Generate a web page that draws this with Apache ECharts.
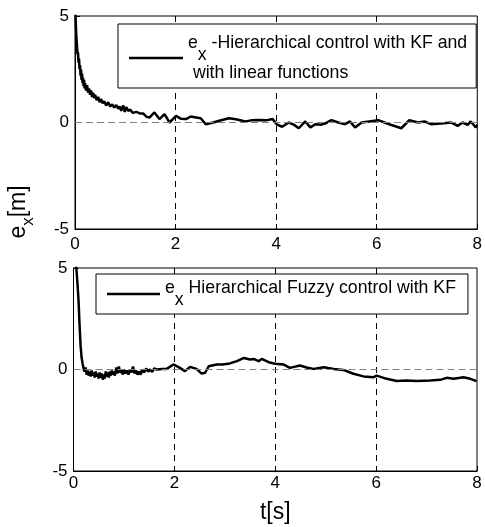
<!DOCTYPE html>
<html>
<head>
<meta charset="utf-8">
<script src="https://cdn.jsdelivr.net/npm/echarts@6/dist/echarts.min.js"></script>
<style>html,body{margin:0;padding:0;background:#fff;}#c{width:485px;height:527px;}</style>
</head>
<body>
<div id="c"></div>
<script>
var xTicks = [0, 2, 4, 6, 8];
var yTicks = [-5, 0, 5];
var nameTop = 'e_x -Hierarchical control with KF and with linear functions';
var nameBot = 'e_x Hierarchical Fuzzy control with KF';

var tTop = [0,0.01,0.02,0.03,0.04,0.05,0.06,0.07,0.08,0.09,0.10,0.11,0.12,0.13,0.14,0.15,0.16,0.17,0.18,0.19,0.20,0.22,0.24,0.26,0.28,0.30,0.32,0.34,0.36,0.38,0.40,0.43,0.46,0.49,0.52,0.55,0.58,0.62,0.66,0.70,0.74,0.78,0.82,0.86,0.89,0.92,0.96,0.99,1.02,1.06,1.10,1.15,1.22,1.30,1.36,1.42,1.48,1.58,1.68,1.78,1.88,2.01,2.10,2.21,2.30,2.41,2.50,2.60,2.75,2.87,3.06,3.20,3.39,3.50,3.65,3.80,3.93,4.02,4.12,4.25,4.35,4.45,4.58,4.68,4.78,4.90,4.97,5.10,5.24,5.37,5.47,5.57,5.70,5.85,6.03,6.25,6.49,6.65,6.82,6.95,7.08,7.28,7.48,7.61,7.71,7.81,7.87,7.97,8.00];
var exTop = [5.6,5.0,4.4,3.9,3.6,3.2,3.3,2.8,3.0,2.5,2.7,2.2,2.5,2.0,2.3,1.85,2.1,1.7,2.0,1.6,1.85,1.5,1.75,1.4,1.6,1.3,1.5,1.2,1.4,1.15,1.3,1.05,1.2,0.95,1.1,0.9,1.0,0.8,0.95,0.75,0.85,0.7,0.82,0.65,0.75,0.55,0.8,0.5,0.72,0.55,0.6,0.45,0.5,0.42,0.42,0.27,0.23,0.47,0.16,0.39,0.0,0.31,0.18,0.16,0.28,0.23,0.2,-0.08,0.0,0.08,0.2,0.15,0.05,0.1,0.12,0.1,0.16,-0.1,-0.2,0.0,-0.1,-0.27,0.05,-0.23,-0.08,-0.1,-0.05,0.11,0.0,-0.08,0.05,-0.23,0.0,0.05,0.11,-0.08,-0.27,0.11,0.0,0.05,-0.08,-0.05,0.0,-0.16,0.0,-0.11,0.05,-0.23,-0.1];

var tBot = [0,0.05,0.08,0.10,0.12,0.14,0.16,0.18,0.20,0.22,0.24,0.26,0.28,0.30,0.32,0.34,0.36,0.38,0.40,0.42,0.44,0.46,0.48,0.50,0.52,0.54,0.56,0.58,0.60,0.62,0.64,0.66,0.68,0.70,0.72,0.74,0.76,0.78,0.80,0.82,0.85,0.87,0.90,0.92,0.95,0.98,1.00,1.03,1.06,1.09,1.12,1.15,1.18,1.21,1.24,1.27,1.30,1.33,1.36,1.40,1.44,1.48,1.52,1.56,1.60,1.65,1.75,1.85,1.98,2.11,2.21,2.31,2.44,2.54,2.61,2.68,2.84,2.95,3.10,3.24,3.38,3.50,3.57,3.67,3.73,3.87,4.00,4.16,4.29,4.49,4.62,4.76,4.96,5.16,5.35,5.55,5.75,5.95,6.01,6.21,6.41,6.61,6.81,7.07,7.27,7.40,7.54,7.73,7.87,7.99];
var exBot = [5.5,5.2,4.2,3.4,2.2,1.2,0.6,0.3,0.05,-0.1,0.1,-0.25,-0.05,-0.3,-0.1,-0.35,-0.05,-0.3,-0.15,-0.4,-0.1,-0.35,-0.2,-0.45,-0.15,-0.4,-0.2,-0.5,-0.25,-0.45,-0.1,-0.35,-0.15,-0.4,-0.1,-0.3,-0.05,-0.25,-0.1,-0.3,0.1,-0.2,0.15,-0.15,-0.05,-0.25,0.0,-0.2,-0.05,-0.25,0.0,-0.15,0.15,-0.2,-0.05,-0.25,-0.1,-0.25,0.0,-0.15,0.05,-0.1,0.0,-0.12,0.05,0.0,0.02,0.03,0.25,0.08,-0.08,0.13,0.03,-0.2,-0.16,0.16,0.25,0.25,0.3,0.41,0.57,0.49,0.52,0.41,0.52,0.36,0.28,0.25,0.08,0.2,0.1,0.03,0.11,0.03,-0.02,-0.21,-0.34,-0.38,-0.3,-0.46,-0.57,-0.54,-0.57,-0.54,-0.51,-0.41,-0.46,-0.38,-0.46,-0.57];

function zip(a, b) {
  var n = Math.min(a.length, b.length), out = [];
  for (var i = 0; i < n; i++) out.push([a[i], b[i]]);
  return out;
}

var FONT = '"Liberation Sans", Arial, sans-serif';
var FS = 17;
var LFS = 17.7;

function xAxisCfg(gi, margin, withName) {
  var c = {
    type: 'value', gridIndex: gi, min: xTicks[0], max: xTicks[xTicks.length - 1],
    interval: xTicks[1] - xTicks[0],
    axisLine: { show: true, onZero: false, lineStyle: { color: '#000', width: 1 } },
    axisTick: { show: true, inside: true, length: 5, lineStyle: { color: '#000' } },
    axisLabel: { color: '#000', fontSize: FS, fontFamily: FONT, margin: margin },
    splitLine: { show: true, showMinLine: false, showMaxLine: false, lineStyle: { color: '#000', type: [6, 5], width: 1 } }
  };
  if (withName) {
    c.name = 't[s]';
    c.nameLocation = 'middle';
    c.nameGap = 30;
    c.nameTextStyle = { color: '#000', fontSize: 23, fontFamily: FONT };
  }
  return c;
}
function yAxisCfg(gi) {
  return {
    type: 'value', gridIndex: gi, min: yTicks[0], max: yTicks[yTicks.length - 1],
    interval: yTicks[1] - yTicks[0],
    axisLine: { show: true, onZero: false, lineStyle: { color: '#000', width: 1 } },
    axisTick: { show: true, inside: true, length: 5, lineStyle: { color: '#000' } },
    axisLabel: { color: '#000', fontSize: FS, fontFamily: FONT, margin: 6 },
    splitLine: { show: false }
  };
}

var richLeg = {
  e: { fontSize: LFS, fontFamily: FONT, color: '#000', lineHeight: 18, verticalAlign: 'top' },
  sub: { fontSize: LFS, fontFamily: FONT, color: '#000', lineHeight: 30, verticalAlign: 'top', padding: [12, 0, 0, 0] },
  t: { fontSize: LFS, fontFamily: FONT, color: '#000', lineHeight: 18, verticalAlign: 'top' }
};

function zeroLine() {
  return {
    silent: true, symbol: 'none', label: { show: false },
    lineStyle: { color: '#808080', type: [7, 4], width: 1 },
    data: [{ yAxis: 0 }]
  };
}

var chart = echarts.init(document.getElementById('c'), null, { renderer: 'canvas' });
chart.setOption({
  backgroundColor: '#fff',
  animation: false,
  textStyle: { fontFamily: FONT },
  grid: [
    { left: 75, top: 16, width: 405, height: 213, show: true, borderColor: '#000', borderWidth: 1, backgroundColor: 'transparent' },
    { left: 73.5, top: 268, width: 403.5, height: 203, show: true, borderColor: '#000', borderWidth: 1, backgroundColor: 'transparent' }
  ],
  xAxis: [xAxisCfg(0, 7, false), xAxisCfg(1, 4, true)],
  yAxis: [yAxisCfg(0), yAxisCfg(1)],
  legend: [
    {
      data: [nameTop], left: 118, top: 24, orient: 'horizontal',
      borderColor: '#000', borderWidth: 1, padding: [10, 9, 6, 11],
      icon: 'rect', itemWidth: 54, itemHeight: 2.5, backgroundColor: '#fff',
      itemStyle: { color: '#000' },
      formatter: function () { return '{e|e}{sub|x}{t| -Hierarchical control with KF and}\n{t| with linear functions}'; },
      textStyle: { rich: richLeg }
    },
    {
      data: [nameBot], left: 96, top: 274, orient: 'horizontal',
      borderColor: '#000', borderWidth: 1, padding: [5, 12, 5, 11],
      icon: 'rect', itemWidth: 53, itemHeight: 2.5, backgroundColor: '#fff',
      itemStyle: { color: '#000' },
      formatter: function () { return '{e|e}{sub|x}{t| Hierarchical Fuzzy control with KF}'; },
      textStyle: { rich: richLeg }
    }
  ],
  graphic: [
    {
      type: 'text', x: 22, y: 212, rotation: Math.PI / 2,
      style: {
        text: '{e|e}{sub|x}{m|[m]}',
        align: 'center', verticalAlign: 'middle',
        rich: {
          e: { fontSize: 23, fontFamily: FONT, fill: '#000', lineHeight: 24, verticalAlign: 'top' },
          sub: { fontSize: 17, fontFamily: FONT, fill: '#000', lineHeight: 30, verticalAlign: 'top', padding: [13, 0, 0, 0] },
          m: { fontSize: 23, fontFamily: FONT, fill: '#000', lineHeight: 24, verticalAlign: 'top' }
        }
      }
    }
  ],
  series: [
    {
      name: nameTop, type: 'line', xAxisIndex: 0, yAxisIndex: 0,
      data: zip(tTop, exTop), symbol: 'none', showSymbol: false, clip: true,
      lineStyle: { color: '#000', width: 2.5 }, itemStyle: { color: '#000' },
      markLine: zeroLine(), z: 3
    },
    {
      name: nameBot, type: 'line', xAxisIndex: 1, yAxisIndex: 1,
      data: zip(tBot, exBot), symbol: 'none', showSymbol: false, clip: true,
      lineStyle: { color: '#000', width: 2.5 }, itemStyle: { color: '#000' },
      markLine: zeroLine(), z: 3
    }
  ]
});
</script>
</body>
</html>
